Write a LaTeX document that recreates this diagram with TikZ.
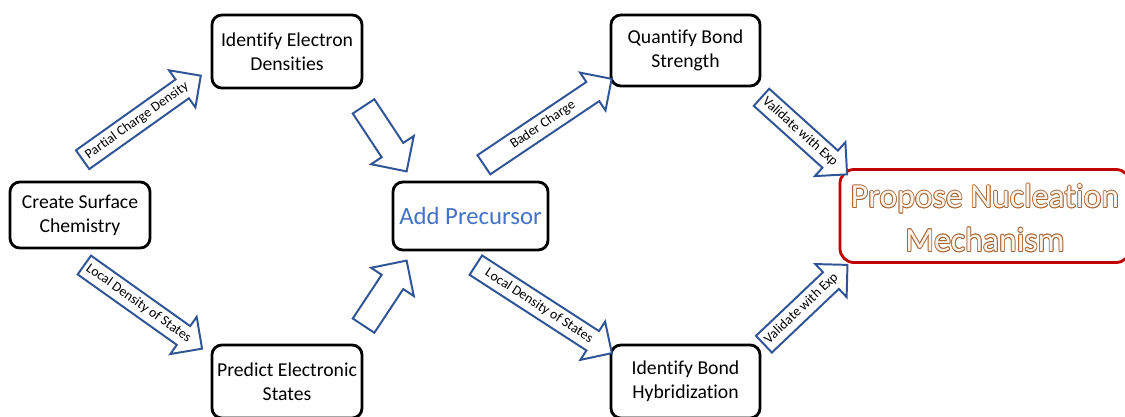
\documentclass[tikz,border=0pt]{standalone}
\usepackage{fontspec}
\setmainfont{Carlito}[Ligatures=NoCommon]
\usetikzlibrary{shapes.arrows,calc}
\definecolor{arrowblue}{HTML}{2F5597}
\definecolor{txtblue}{HTML}{4472C4}
\definecolor{boxred}{HTML}{C00000}
\definecolor{propfill}{HTML}{FDF3EA}
\definecolor{propstroke}{HTML}{A8693A}
\tikzset{
  box/.style={draw=black, line width=2pt, rounded corners=7pt, fill=white, align=center,
    font=\fontsize{14}{17}\selectfont, inner sep=2pt},
  barrow/.style={single arrow, draw=arrowblue, fill=white, line width=1.4pt,
    single arrow head extend=8pt, text height=7pt, text depth=2pt, inner ysep=3pt,
    inner xsep=2pt, minimum width=0pt, font=\fontsize{9.8}{11}\selectfont, anchor=center},
  proptext/.style={align=center, font=\fontsize{24}{31}\selectfont, inner sep=0pt},
}
\begin{document}
\begin{tikzpicture}[x=0.025cm,y=-0.025cm]
\useasboundingbox (0,0) rectangle (1125,416);
% boxes
\node[box, minimum width=3.5cm, minimum height=1.65cm] (create) at (80,215) {Create Surface\\Chemistry};
\node[box, minimum width=3.75cm, minimum height=1.825cm] (ied) at (287,51.5) {Identify Electron\\Densities};
\node[box, minimum width=3.75cm, minimum height=1.825cm] (pes) at (287,381.5) {Predict Electronic\\States};
\node[box, minimum width=3.875cm, minimum height=1.7cm, text=txtblue, font=\fontsize{17.6}{20}\selectfont] (add) at (470.5,216) {Add Precursor};
\node[box, minimum width=3.725cm, minimum height=1.775cm] (qbs) at (685.5,50.5) {Quantify Bond\\Strength};
\node[box, minimum width=3.725cm, minimum height=1.825cm] (ibh) at (685.5,381.5) {Identify Bond\\Hybridization};
\node[box, draw=boxred, rounded corners=10pt, minimum width=7.25cm, minimum height=2.325cm] (pnm) at (985,216) {};
% outlined title text
\foreach \a in {0,45,...,315}{
  \node[proptext, text=propstroke] at ($(pnm.center)+(\a:0.022cm)+(0,2)$) {Propose Nucleation\\Mechanism};
}
\node[proptext, text=propfill] (pnmtext) at ($(pnm.center)+(0,2)$) {Propose Nucleation\\Mechanism};
% block arrows
\node[barrow, rotate=35.4, minimum height=145*0.025cm] (a1) at ($(78,163)!0.5!(196,79)$) {Partial Charge Density};
\node[barrow, rotate=-35.4, minimum height=143*0.025cm] (a2) at ($(80,262)!0.5!(197,345)$) {Local Density of States};
\node[barrow, rotate=-56.5, minimum height=78*0.025cm, text height=10pt, text depth=0pt, inner ysep=3.5pt, single arrow head extend=9pt] (a3) at ($(360,101)!0.5!(403,166)$) {};
\node[barrow, rotate=56.5, minimum height=78*0.025cm, text height=10pt, text depth=0pt, inner ysep=3.5pt, single arrow head extend=9pt] (a4) at ($(360,331)!0.5!(403,266)$) {};
\node[barrow, rotate=33.9, minimum height=154*0.025cm] (a5) at ($(479,168)!0.5!(607,82)$) {Bader Charge};
\node[barrow, rotate=-32.9, minimum height=162*0.025cm] (a6) at ($(471,262)!0.5!(607,350)$) {Local Density of States};
\node[barrow, rotate=-42, minimum height=108*0.025cm] (a7) at ($(760,96)!0.5!(840,168)$) {Validate with Exp};
\node[barrow, rotate=43.5, minimum height=106*0.025cm] (a8) at ($(763,345)!0.5!(840,272)$) {Validate with Exp};
\end{tikzpicture}
\end{document}
